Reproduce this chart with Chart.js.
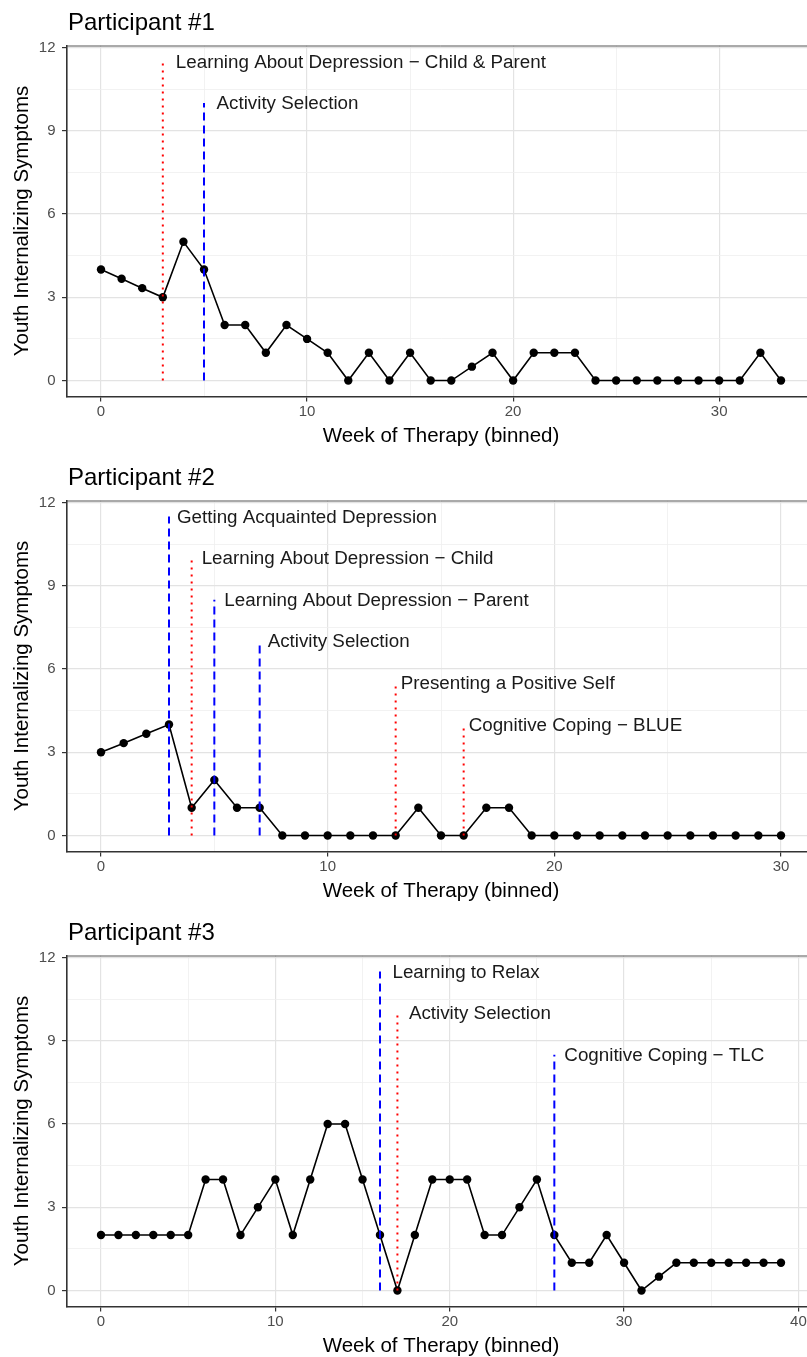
<!DOCTYPE html>
<html><head><meta charset="utf-8">
<script src="https://cdn.jsdelivr.net/npm/chart.js@4.4.1/dist/chart.umd.min.js"></script>
<style>
html,body{margin:0;padding:0;background:#fff;width:807px;height:1357px;overflow:hidden;position:relative;}
.panel{position:absolute;left:0;width:807px;height:455px;overflow:hidden;background:#fff;}
canvas{display:block;}
</style></head><body>
<div class="panel" style="top:0px"><canvas id="c1" width="830" height="455" style="width:830px;height:455px"></canvas></div>
<div class="panel" style="top:455px"><canvas id="c2" width="830" height="455" style="width:830px;height:455px"></canvas></div>
<div class="panel" style="top:910px;height:447px"><canvas id="c3" width="830" height="455" style="width:830px;height:455px"></canvas></div>
<script>
// ---------- DATA ----------
const yMajorTicks = [0, 3, 6, 9, 12];
const yAllTicks = [0, 1.5, 3, 4.5, 6, 7.5, 9, 10.5, 12];

// Participant #1
const p1Weeks  = [0,1,2,3,4,5,6,7,8,9,10,11,12,13,14,15,16,17,18,19,20,21,22,23,24,25,26,27,28,29,30,31,32,33];
const p1Values = [4,3.67,3.33,3,5,4,2,2,1,2,1.5,1,0,1,0,1,0,0,0.5,1,0,1,1,1,0,0,0,0,0,0,0,0,1,0];
const p1MarkWeeks  = [3, 5];
const p1MarkTops   = [11.5, 10];
const p1MarkLabels = ['Learning About Depression \u2212 Child & Parent', 'Activity Selection'];
const p1MarkTypes  = ['dotted', 'dashed'];
const p1XMajor = [0, 10, 20, 30];
const p1XAll   = [0, 5, 10, 15, 20, 25, 30];

// Participant #2
const p2Weeks  = [0,1,2,3,4,5,6,7,8,9,10,11,12,13,14,15,16,17,18,19,20,21,22,23,24,25,26,27,28,29,30];
const p2Values = [3,3.33,3.67,4,1,2,1,1,0,0,0,0,0,0,1,0,0,1,1,0,0,0,0,0,0,0,0,0,0,0,0];
const p2MarkWeeks  = [3, 4, 5, 7, 13, 16];
const p2MarkTops   = [11.5, 10, 8.5, 7, 5.5, 4];
const p2MarkLabels = ['Getting Acquainted Depression', 'Learning About Depression \u2212 Child', 'Learning About Depression \u2212 Parent', 'Activity Selection', 'Presenting a Positive Self', 'Cognitive Coping \u2212 BLUE'];
const p2MarkTypes  = ['dashed', 'dotted', 'dashed', 'dashed', 'dotted', 'dotted'];
const p2XMajor = [0, 10, 20, 30];
const p2XAll   = [0, 5, 10, 15, 20, 25, 30];

// Participant #3
const p3Weeks  = [0,1,2,3,4,5,6,7,8,9,10,11,12,13,14,15,16,17,18,19,20,21,22,23,24,25,26,27,28,29,30,31,32,33,34,35,36,37,38,39];
const p3Values = [2,2,2,2,2,2,4,4,2,3,4,2,4,6,6,4,2,0,2,4,4,4,2,2,3,4,2,1,1,2,1,0,0.5,1,1,1,1,1,1,1];
const p3MarkWeeks  = [16, 17, 26];
const p3MarkTops   = [11.5, 10, 8.5];
const p3MarkLabels = ['Learning to Relax', 'Activity Selection', 'Cognitive Coping \u2212 TLC'];
const p3MarkTypes  = ['dashed', 'dotted', 'dashed'];
const p3XMajor = [0, 10, 20, 30, 40];
const p3XAll   = [0, 5, 10, 15, 20, 25, 30, 35, 40];

// ---------- STYLE ----------
const FONT = '"Liberation Sans", Arial, Helvetica, sans-serif';
Chart.defaults.font.family = FONT;
const labelNudges = { c1: [13, 12.5], c2: [8, 10, 10, 8, 5, 5], c3: [12.5, 11.5, 10] };
const markStyle = {
  dotted: { color: '#ff0000', dash: [2, 5] },
  dashed: { color: '#0000ff', dash: [8, 5] }
};

const panelDecor = {
  id: 'panelDecor',
  afterDraw(chart, args, opts) {
    const { ctx, chartArea: a, scales: { x, y } } = chart;
    ctx.save();
    ctx.strokeStyle = '#555';
    ctx.lineWidth = 1;
    ctx.beginPath();
    ctx.moveTo(a.left, a.top + 0.5);
    ctx.lineTo(a.right - 0.5, a.top + 0.5);
    ctx.lineTo(a.right - 0.5, a.bottom);
    ctx.stroke();
    ctx.fillStyle = '#000';
    ctx.textAlign = 'left';
    ctx.textBaseline = 'alphabetic';
    ctx.font = '24px ' + FONT;
    ctx.fillText(opts.title, 68, 30);
    ctx.font = '18.8px ' + FONT;
    ctx.fillStyle = '#1a1a1a';
    ctx.textBaseline = 'middle';
    opts.marks.forEach((m, i) => {
      ctx.fillText(m.label, x.getPixelForValue(m.week) + opts.nudges[i], y.getPixelForValue(m.top) + 1);
    });
    ctx.restore();
  }
};

function makePanel(id, title, weeks, values, mWeeks, mTops, mLabels, mTypes, xMajor, xAll) {
  const xmin = Math.min(...weeks), xmax = Math.max(...weeks);
  const xpad = 0.05 * (xmax - xmin);
  const ymax = Math.max(...values, ...mTops);
  const ypad = 0.05 * ymax;
  const datasets = [];
  mWeeks.forEach((w, i) => {
    const st = markStyle[mTypes[i]];
    datasets.push({
      data: [{ x: w, y: 0 }, { x: w, y: mTops[i] }],
      borderColor: st.color, borderDash: st.dash, borderWidth: 2,
      pointRadius: 0, order: 0
    });
  });
  datasets.push({
    data: weeks.map((w, i) => ({ x: w, y: values[i] })),
    borderColor: '#000', borderWidth: 1.6, tension: 0,
    pointRadius: 4.2, pointBackgroundColor: '#000', pointBorderColor: '#000', pointBorderWidth: 0,
    order: 1
  });
  const marks = mWeeks.map((w, i) => ({ week: w, top: mTops[i], label: mLabels[i] }));
  const gridColor = (major) => (c) => major(c.tick && c.tick.value) ? '#e3e3e3' : '#efefef';
  const isXMajor = v => xMajor.includes(v);
  const isYMajor = v => yMajorTicks.includes(v);
  new Chart(document.getElementById(id), {
    type: 'line',
    data: { datasets },
    plugins: [panelDecor],
    options: {
      responsive: false, animation: false, devicePixelRatio: 1,
      layout: { padding: { top: 45.5, right: 15, left: 0, bottom: 0 } },
      plugins: {
        legend: { display: false }, tooltip: { enabled: false }, title: { display: false },
        panelDecor: { title, marks, nudges: labelNudges[id] }
      },
      scales: {
        x: {
          type: 'linear', min: xmin - xpad, max: xmax + xpad,
          afterBuildTicks: s => { s.ticks = xAll.map(v => ({ value: v })); },
          afterFit: s => { s.height = 58.5; },
          ticks: { autoSkip: false, maxRotation: 0, padding: 1.5, color: '#4d4d4d', font: { size: 15 },
                   callback: v => isXMajor(v) ? String(v) : '' },
          grid: { color: gridColor(isXMajor), lineWidth: c => isXMajor(c.tick && c.tick.value) ? 1.2 : 0.8,
                  tickLength: 5, tickWidth: 1.2,
                  tickColor: c => isXMajor(c.tick && c.tick.value) ? '#333' : 'rgba(0,0,0,0)' },
          border: { color: '#333', width: 1.6 },
          title: { display: true, text: 'Week of Therapy (binned)', color: '#000', font: { size: 20.5 },
                   padding: { top: 0, bottom: 6.2 } }
        },
        y: {
          type: 'linear', min: -ypad, max: ymax + ypad,
          afterBuildTicks: s => { s.ticks = yAllTicks.map(v => ({ value: v })); },
          afterFit: s => { s.width = 67; },
          ticks: { autoSkip: false, padding: 6.5, color: '#4d4d4d', font: { size: 15 },
                   callback: v => isYMajor(v) ? String(v) : '' },
          grid: { color: gridColor(isYMajor), lineWidth: c => isYMajor(c.tick && c.tick.value) ? 1.2 : 0.8,
                  tickLength: 5, tickWidth: 1.2,
                  tickColor: c => isYMajor(c.tick && c.tick.value) ? '#333' : 'rgba(0,0,0,0)' },
          border: { color: '#333', width: 1.6 },
          title: { display: true, text: 'Youth Internalizing Symptoms', color: '#000', font: { size: 20.5 },
                   padding: { top: 9.7, bottom: 0 } }
        }
      }
    }
  });
}

makePanel('c1', 'Participant #1', p1Weeks, p1Values, p1MarkWeeks, p1MarkTops, p1MarkLabels, p1MarkTypes, p1XMajor, p1XAll);
makePanel('c2', 'Participant #2', p2Weeks, p2Values, p2MarkWeeks, p2MarkTops, p2MarkLabels, p2MarkTypes, p2XMajor, p2XAll);
makePanel('c3', 'Participant #3', p3Weeks, p3Values, p3MarkWeeks, p3MarkTops, p3MarkLabels, p3MarkTypes, p3XMajor, p3XAll);
</script>
</body></html>
